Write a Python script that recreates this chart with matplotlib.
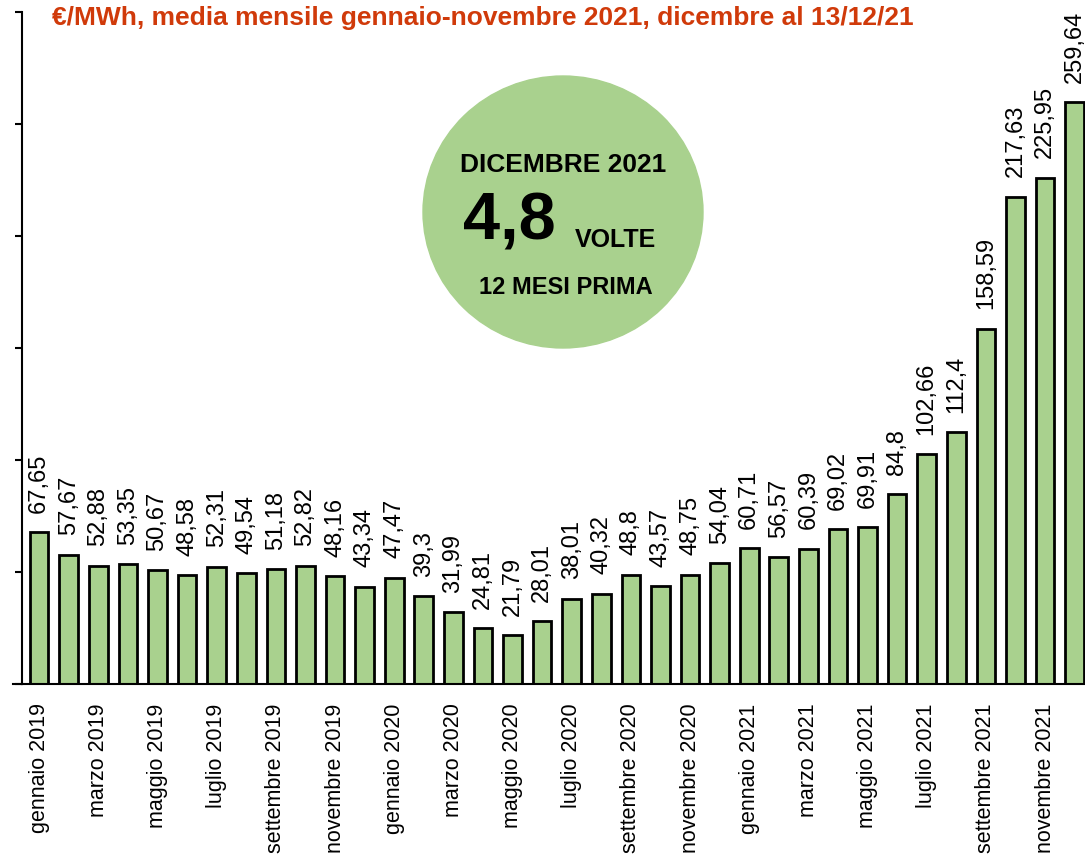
import matplotlib
matplotlib.use("Agg")
import matplotlib.pyplot as plt
from matplotlib.patches import Ellipse

months = ["gennaio", "febbraio", "marzo", "aprile", "maggio", "giugno",
          "luglio", "agosto", "settembre", "ottobre", "novembre", "dicembre"]
years = ["2019", "2020", "2021"]
labels = [m + " " + y for y in years for m in months]

prices = [67.65, 57.67, 52.88, 53.35, 50.67, 48.58, 52.31, 49.54, 51.18, 52.82, 48.16, 43.34,
          47.47, 39.3, 31.99, 24.81, 21.79, 28.01, 38.01, 40.32, 48.8, 43.57, 48.75, 54.04,
          60.71, 56.57, 60.39, 69.02, 69.91, 84.8, 102.66, 112.4, 158.59, 217.63, 225.95, 259.64]

title = "€/MWh, media mensile gennaio-novembre 2021, dicembre al 13/12/21"
green = "#a9d18e"
font = "Liberation Sans"

fig = plt.figure(figsize=(10.85, 8.58), dpi=100)
ax = fig.add_axes([22 / 1085, 174 / 858, 1063 / 1085, 672 / 858])

x = list(range(len(prices)))
ax.bar(x, prices, width=0.63, color=green, edgecolor="black", linewidth=2)

# etichette valori ruotate sopra le barre
for i, v in enumerate(prices):
    txt = ("%g" % v).replace(".", ",")
    ax.annotate(txt, (i, v), xytext=(0, 14), textcoords="offset points",
                rotation=90, ha="center", va="bottom", fontsize=17, family=font)

ax.set_xlim(-0.58, 35.35)
ax.set_ylim(0, 300)
ax.set_yticks([0, 50, 100, 150, 200, 250, 300])
ax.set_yticklabels([])
ax.tick_params(axis="y", direction="out", length=5, width=1.5)
ax.set_xticks(x[::2])
ax.set_xticklabels(labels[::2], rotation=90, fontsize=15.5, family=font)
ax.tick_params(axis="x", length=0, pad=14)
ax.spines["top"].set_visible(False)
ax.spines["right"].set_visible(False)
ax.spines["left"].set_linewidth(1.5)
ax.spines["bottom"].set_linewidth(1.5)
ax.plot([-0.008, 0], [0, 0], transform=ax.transAxes, clip_on=False, color="black", lw=1.5)

fig.text(52 / 1085, 1 - 18 / 858, title, color="#d03a0a", fontsize=19, fontweight="bold",
         family=font, ha="left", va="center")

circle = Ellipse((563 / 1085, 1 - 212 / 858), 280 / 1085, 272 / 858,
                 transform=fig.transFigure, color=green, zorder=5)
fig.add_artist(circle)
fig.text(563 / 1085, 1 - 165 / 858, "DICEMBRE 2021", fontsize=19, fontweight="bold",
         family=font, ha="center", va="center", zorder=6)
fig.text(509 / 1085, 1 - 222 / 858, "4,8", fontsize=48, fontweight="bold",
         family=font, ha="center", va="center", zorder=6)
fig.text(615 / 1085, 1 - 240 / 858, "VOLTE", fontsize=18, fontweight="bold",
         family=font, ha="center", va="center", zorder=6)
fig.text(566 / 1085, 1 - 288 / 858, "12 MESI PRIMA", fontsize=17, fontweight="bold",
         family=font, ha="center", va="center", zorder=6)

fig.savefig("out.png", dpi=100)
